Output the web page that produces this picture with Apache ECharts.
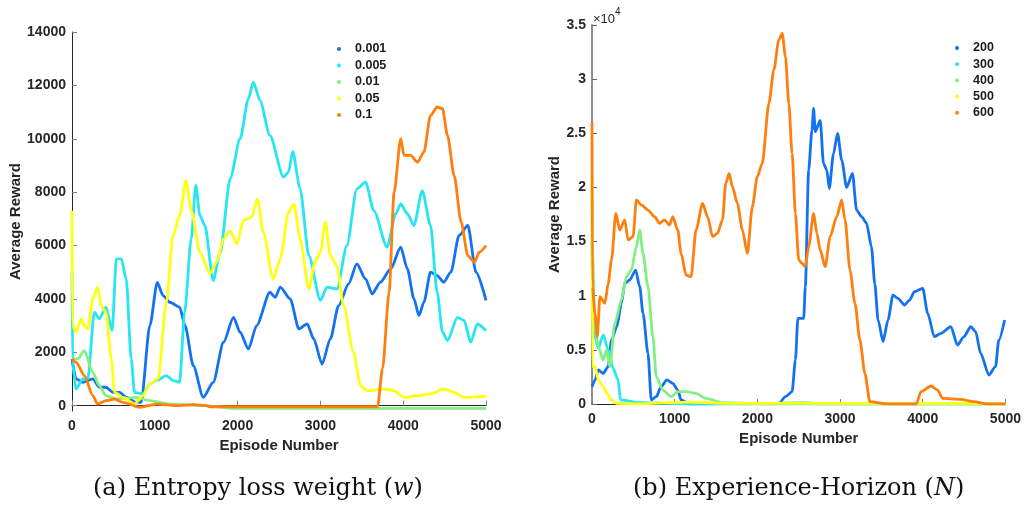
<!DOCTYPE html>
<html>
<head>
<meta charset="utf-8">
<script src="https://cdn.jsdelivr.net/npm/echarts@6/dist/echarts.min.js"></script>
<style>
html,body{margin:0;padding:0;background:#fff;}
#c{width:1024px;height:514px;}
</style>
</head>
<body>
<div id="c"></div>
<script>
// ---- Panel (a): Entropy loss weight (w) ----
const namesA = ['0.001', '0.005', '0.01', '0.05', '0.1'];
const w0001 = [[0,1750],[50,1000],[130,875],[250,1000],[330,690],[410,690],[495,500],[575,500],[655,310],[775,125],[835,125],[940,3000],[1030,4620],[1100,4125],[1180,3875],[1300,3690],[1365,3000],[1465,1500],[1585,310],[1705,875],[1830,2375],[1950,3310],[2030,2750],[2130,2125],[2230,3000],[2390,4250],[2455,4060],[2515,4440],[2635,4000],[2740,2875],[2840,3060],[2920,2500],[3020,1560],[3120,2500],[3220,3750],[3340,4560],[3440,5310],[3545,4750],[3625,4190],[3725,4625],[3850,5125],[3970,5940],[4050,5125],[4130,4000],[4190,3375],[4250,3875],[4330,5000],[4410,4875],[4490,4625],[4575,5000],[4675,6375],[4780,6750],[4880,5000],[5000,3940]];
const w0005 = [[0,5000],[8,1500],[50,625],[130,1000],[190,1000],[270,3500],[330,3250],[410,3690],[485,2810],[535,5500],[595,5500],[655,4750],[715,1750],[755,500],[855,440],[940,810],[1020,940],[1140,1125],[1220,940],[1300,875],[1360,3500],[1440,6250],[1495,8250],[1545,7125],[1605,6750],[1705,4690],[1790,5750],[1910,8500],[2030,10000],[2130,11500],[2190,12125],[2270,11440],[2390,10125],[2555,8560],[2615,8750],[2665,9525],[2755,8125],[2860,5625],[3000,3940],[3080,4440],[3200,4375],[3320,6000],[3440,8125],[3545,8375],[3645,7310],[3805,5940],[3910,7190],[3970,7560],[4050,7190],[4130,6750],[4230,8060],[4330,6750],[4410,4250],[4475,2750],[4535,2440],[4655,3310],[4735,3190],[4815,2375],[4895,3060],[5000,2810]];
const w001 = [[0,1750],[70,1750],[150,2060],[250,1250],[330,750],[410,375],[535,250],[775,310],[940,190],[1180,60],[1585,0],[1990,-100],[5000,-100]];
const w005 = [[0,7300],[6,3000],[50,2750],[110,3250],[150,3000],[190,2875],[250,4000],[310,4440],[350,3750],[410,3500],[475,1750],[515,500],[615,310],[755,60],[855,375],[940,810],[1040,1000],[1140,3875],[1220,6375],[1300,7125],[1375,8440],[1440,7310],[1545,5750],[1665,4940],[1745,5375],[1830,6250],[1910,6560],[1990,6060],[2070,6940],[2170,7060],[2240,7750],[2310,6500],[2430,4750],[2515,5500],[2615,7250],[2680,7560],[2755,6250],[2860,4375],[2935,5375],[3000,5750],[3060,6875],[3120,5625],[3200,5250],[3280,3750],[3400,2000],[3485,750],[3565,560],[3765,625],[3885,560],[4010,310],[4170,375],[4330,440],[4490,625],[4615,500],[4735,310],[5000,350]];
const w01 = [[0,1750],[50,1625],[150,1125],[250,375],[310,60],[410,190],[515,250],[615,125],[815,-60],[1020,60],[1260,0],[1465,40],[1625,0],[1665,-40],[3690,-40],[3750,1375],[3830,4250],[3890,8000],[3970,10000],[4010,9375],[4090,9375],[4175,9125],[4250,9500],[4330,10875],[4410,11190],[4475,11125],[4535,10125],[4615,8625],[4700,6875],[4780,5625],[4860,5375],[4920,5750],[5000,6000]];

// ---- Panel (b): Experience-Horizon (N) ----
const namesB = ['200', '300', '400', '500', '600'];
const n200 = [[0,1600],[36,2200],[76,3140],[136,2830],[196,3450],[236,5900],[300,7140],[356,9300],[396,11140],[456,11450],[528,12370],[577,10830],[617,8370],[677,4680],[717,370],[777,680],[837,1600],[905,2220],[977,1900],[1037,1300],[1077,370],[1180,0],[2260,60],[2340,680],[2420,1140],[2460,4060],[2490,7900],[2560,7900],[2580,10830],[2620,21600],[2660,25300],[2680,27300],[2700,25150],[2760,26200],[2800,22200],[2840,21600],[2870,19900],[2920,23100],[2970,25000],[3020,22500],[3080,20000],[3150,21300],[3200,17900],[3260,17300],[3320,16700],[3380,14500],[3420,11100],[3460,7760],[3520,5760],[3580,7760],[3640,10060],[3700,9760],[3780,9140],[3840,9600],[3900,10370],[4000,10680],[4060,8370],[4140,6220],[4220,6530],[4340,7140],[4420,5450],[4500,6220],[4580,7140],[4640,6680],[4700,4680],[4800,2680],[4880,3450],[4920,5900],[4990,7760]];
const n300 = [[0,15000],[8,8370],[36,6220],[76,5140],[136,6370],[196,4990],[256,3290],[316,2220],[344,370],[577,120],[1180,0],[5000,0]];
const n400 = [[0,19000],[6,13900],[36,7140],[76,5290],[136,4060],[176,4990],[216,3450],[276,7450],[356,9600],[416,11760],[476,12370],[537,14530],[577,16070],[617,13910],[677,10830],[737,6220],[777,2520],[857,1290],[957,680],[1037,1140],[1138,1140],[1258,985],[1378,520],[1578,120],[1979,60],[2540,120],[2780,60],[3180,0],[5000,0]];
const n500 = [[0,21000],[5,3450],[36,3450],[76,2220],[136,1600],[196,830],[236,370],[296,60],[577,0],[897,120],[1178,180],[1578,60],[4650,60],[4700,0],[5000,0]];
const n600 = [[0,26000],[5,10830],[36,8370],[64,6220],[96,9910],[156,9300],[196,11140],[236,13300],[288,17600],[336,16070],[396,17000],[436,15150],[497,15450],[537,18840],[597,18380],[677,17910],[757,17300],[817,16680],[877,17000],[937,16530],[977,17300],[1037,16070],[1077,13910],[1138,11910],[1198,11760],[1258,16070],[1338,18530],[1398,17300],[1458,15450],[1518,15760],[1578,17000],[1618,20380],[1658,21300],[1698,20070],[1758,18530],[1819,16070],[1879,13910],[1939,18220],[1999,20990],[2059,22220],[2139,27760],[2199,30840],[2259,33610],[2300,34230],[2340,32070],[2380,27760],[2420,23150],[2460,17600],[2500,13300],[2540,12990],[2580,12680],[2620,14530],[2680,17600],[2720,15760],[2760,14220],[2820,12680],[2880,15450],[2960,17300],[3020,18840],[3060,17000],[3120,12370],[3180,9300],[3240,5910],[3300,2830],[3360,215],[3580,0],[3920,0],[3980,1140],[4100,1660],[4180,1290],[4240,520],[4460,430],[4620,215],[4780,0],[5000,0]];

const yTicksA = [0, 2000, 4000, 6000, 8000, 10000, 12000, 14000];

const colors = ['#1372f0', '#25e6f2', '#80f080', '#ffff14', '#ff7f0e'];
const dataA = [w0001, w0005, w001, w005, w01];
const dataB = [n200, n300, n400, n500, n600];

const labelFont = {fontFamily: 'Liberation Sans, Arial, sans-serif', fontWeight: 'bold', fontSize: 14, color: '#262626'};
const nameFont = {fontFamily: 'Liberation Sans, Arial, sans-serif', fontWeight: 'bold', fontSize: 15, color: '#262626'};
const plain = v => String(v);

function mkSeries(data, names, idx) {
  return data.map((d, i) => ({
    name: names[i], type: 'line', xAxisIndex: idx, yAxisIndex: idx,
    data: d, showSymbol: false, smooth: 0.25, smoothMonotone: 'x',
    lineStyle: {width: 2.8, color: colors[i]}, itemStyle: {color: colors[i]},
    animation: false, z: 2 + i
  }));
}

const chart = echarts.init(document.getElementById('c'), null, {renderer: 'canvas'});
chart.setOption({
  backgroundColor: '#ffffff',
  animation: false,
  grid: [
    {left: 72, top: 32, width: 414, height: 379},
    {left: 592, top: 25, width: 416, height: 379}
  ],
  xAxis: [
    {gridIndex: 0, type: 'value', min: 0, max: 5000, interval: 1000,
     splitLine: {show: false},
     axisLine: {lineStyle: {color: '#262626', width: 1}},
     axisTick: {inside: true, length: 5, lineStyle: {color: '#808080'}},
     axisLabel: Object.assign({margin: 8, formatter: plain}, labelFont),
     name: 'Episode Number', nameLocation: 'middle', nameGap: 27, nameTextStyle: nameFont},
    {gridIndex: 1, type: 'value', min: 0, max: 5000, interval: 1000,
     splitLine: {show: false},
     axisLine: {lineStyle: {color: '#262626', width: 1}},
     axisTick: {inside: true, length: 5, lineStyle: {color: '#808080'}},
     axisLabel: Object.assign({margin: 8, formatter: plain}, labelFont),
     name: 'Episode Number', nameLocation: 'middle', nameGap: 26, nameTextStyle: nameFont}
  ],
  yAxis: [
    {gridIndex: 0, type: 'value', min: -200, max: 14000,
     splitLine: {show: false},
     axisLine: {show: true, lineStyle: {color: '#262626', width: 1}},
     axisTick: {show: true, inside: true, length: 5, customValues: yTicksA, lineStyle: {color: '#808080'}},
     axisLabel: Object.assign({margin: 6, customValues: yTicksA, formatter: plain}, labelFont),
     name: 'Average Reward', nameLocation: 'middle', nameGap: 44, nameRotate: 90, nameTextStyle: nameFont},
    {gridIndex: 1, type: 'value', min: 0, max: 35000, interval: 5000,
     splitLine: {show: false},
     axisLine: {show: true, lineStyle: {color: '#8f8f8f', width: 2}},
     axisTick: {show: true, inside: true, length: 5, lineStyle: {color: '#606060'}},
     axisLabel: Object.assign({margin: 6, formatter: v => String(v / 10000)}, labelFont),
     name: 'Average Reward', nameLocation: 'middle', nameGap: 26, nameRotate: 90, nameTextStyle: nameFont}
  ],
  legend: [
    {data: namesA, orient: 'vertical', left: 332, top: 36, itemWidth: 4, itemHeight: 4, itemGap: 0.5,
     icon: 'circle', selectedMode: false,
     textStyle: {fontFamily: 'Liberation Sans, Arial, sans-serif', fontWeight: 'bold', fontSize: 12.5, color: '#1a1a1a', lineHeight: 16, padding: [0, 0, 0, 9]}},
    {data: namesB, orient: 'vertical', left: 950, top: 35, itemWidth: 4, itemHeight: 4, itemGap: 0.2,
     icon: 'circle', selectedMode: false,
     textStyle: {fontFamily: 'Liberation Sans, Arial, sans-serif', fontWeight: 'bold', fontSize: 12.5, color: '#1a1a1a', lineHeight: 16, padding: [0, 0, 0, 9]}}
  ],
  graphic: [
    {type: 'text', left: 593, top: 7, style: {
      text: '{a|×10}{b|4}',
      rich: {
        a: {fontFamily: 'Liberation Sans, Arial, sans-serif', fontSize: 13, fill: '#262626', padding: [6, 0, 0, 0]},
        b: {fontFamily: 'Liberation Sans, Arial, sans-serif', fontSize: 10, fill: '#262626', verticalAlign: 'top'}
      }
    }},
    {type: 'text', left: 93, top: 477, style: {
      text: '(a) Entropy loss weight ({i|w})',
      font: '24px "DejaVu Serif", serif', fill: '#111',
      rich: {i: {fontFamily: 'DejaVu Serif, serif', fontStyle: 'italic', fontSize: 24, fill: '#111'}}
    }},
    {type: 'text', left: 633, top: 477, style: {
      text: '(b) Experience-Horizon ({i|N})',
      font: '24px "DejaVu Serif", serif', fill: '#111',
      rich: {i: {fontFamily: 'DejaVu Serif, serif', fontStyle: 'italic', fontSize: 24, fill: '#111'}}
    }}
  ],
  series: mkSeries(dataA, namesA, 0).concat(mkSeries(dataB, namesB, 1))
});
</script>
</body>
</html>
